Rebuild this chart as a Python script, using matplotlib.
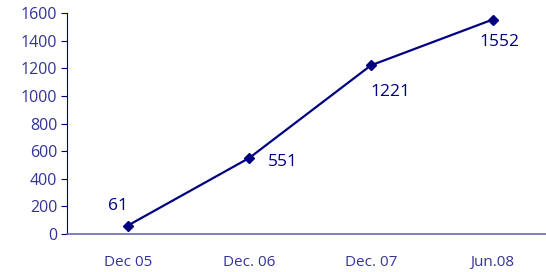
import matplotlib
matplotlib.use('Agg')
from matplotlib import pyplot as plt

# data
labels = ['Dec 05', 'Dec. 06', 'Dec. 07', 'Jun.08']
values = [61, 551, 1221, 1552]
yticks = [0, 200, 400, 600, 800, 1000, 1200, 1400, 1600]

navy = '#000080'
tickcol = '#33339a'

plt.rcParams['font.family'] = ['Open Sans', 'DejaVu Sans']

fig = plt.figure(figsize=(5.46, 2.72), dpi=100)
ax = fig.add_axes([67/546, 1 - 234/272, 1 - 67/546, (234 - 13)/272])

x = list(range(len(values)))
ax.plot(x, values, color=navy, lw=1.6, marker='D', ms=5, mfc=navy, mec=navy)

# label offsets in points
offsets = [(-7, 14), (24, -3), (14, -19), (5, -16)]
for xi, v, off in zip(x, values, offsets):
    ax.annotate(str(v), (xi, v), xytext=off, textcoords='offset points',
                ha='center', va='center', fontsize=12.5, color=navy)

ax.set_xlim(-0.5, 3.44)
ax.set_ylim(0, 1600)
ax.set_yticks(yticks)
ax.set_xticks(x)
ax.set_xticklabels(labels)
ax.tick_params(axis='y', colors=navy, labelcolor=tickcol, labelsize=11.5, length=4, direction='out', pad=3)
ax.tick_params(axis='x', length=0, labelcolor=tickcol, labelsize=11, pad=15)
for s in ['top', 'right']:
    ax.spines[s].set_visible(False)
ax.spines['left'].set_color(navy)
ax.spines['bottom'].set_color('#6a6ab5')
ax.spines['bottom'].set_linewidth(1.2)

fig.savefig('out.png', dpi=100)
